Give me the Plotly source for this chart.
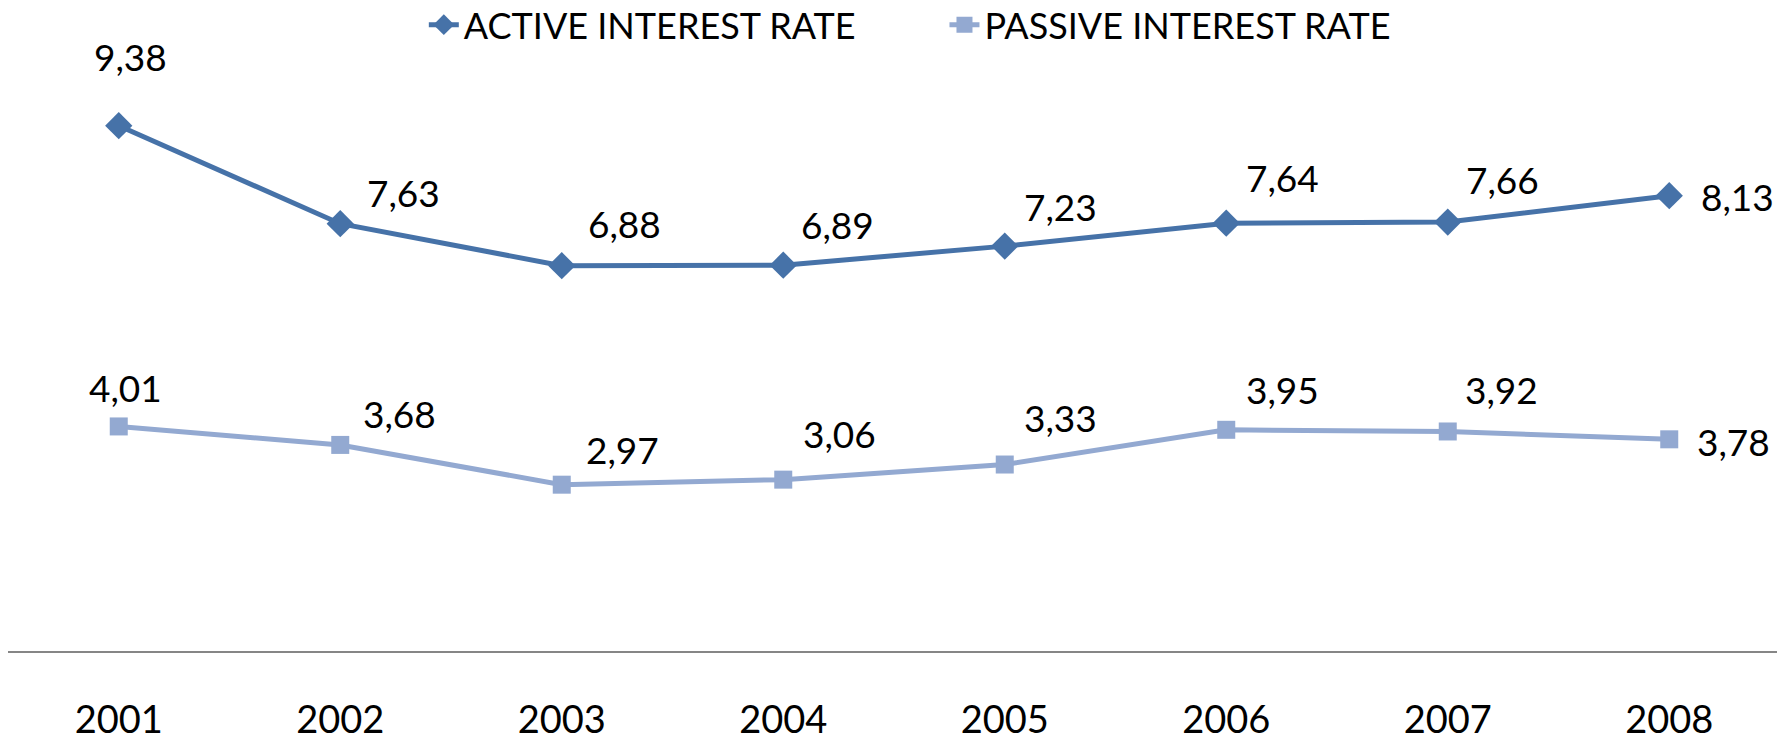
import plotly.graph_objects as go

years = ["2001", "2002", "2003", "2004", "2005", "2006", "2007", "2008"]
active = [9.38, 7.63, 6.88, 6.89, 7.23, 7.64, 7.66, 8.13]
passive = [4.01, 3.68, 2.97, 3.06, 3.33, 3.95, 3.92, 3.78]

# label offsets (pixels): (dx, dy up)
active_off = [(12, 69), (63, 31), (63, 42), (54, 41), (56, 40), (56, 46), (55, 43), (68, -1)]
passive_off = [(7, 39), (59, 31), (61, 35), (56, 46), (56, 47), (56, 40), (54, 42), (64, -2)]

ACTIVE_C = "#4672A8"
PASSIVE_C = "#93A9D1"
FONT = "Lato"

fig = go.Figure()
fig.add_trace(go.Scatter(
    x=years, y=active, name="ACTIVE INTEREST RATE", mode="lines+markers",
    line=dict(color=ACTIVE_C, width=5),
    marker=dict(symbol="diamond", size=21, color=ACTIVE_C),
    cliponaxis=False, legend="legend",
))
fig.add_trace(go.Scatter(
    x=years, y=passive, name="PASSIVE INTEREST RATE", mode="lines+markers",
    line=dict(color=PASSIVE_C, width=5),
    marker=dict(symbol="square", size=18, color=PASSIVE_C),
    cliponaxis=False, legend="legend2",
))

annotations = []
for vals, offs in ((active, active_off), (passive, passive_off)):
    for i, (v, (dx, dy)) in enumerate(zip(vals, offs)):
        annotations.append(dict(
            x=i, y=v, xref="x", yref="y",
            text=f"{v:.2f}".replace(".", ","), showarrow=False,
            xanchor="center", yanchor="middle", xshift=dx, yshift=dy,
            font=dict(family=FONT, size=37, color="#000000"),
        ))

legend_common = dict(orientation="h", xanchor="left", yanchor="middle",
                     xref="container", yref="container",
                     font=dict(family=FONT, size=36), itemwidth=30,
                     bgcolor="rgba(0,0,0,0)")

fig.update_layout(
    width=1777, height=728,
    margin=dict(l=0, r=5, t=83, b=85, autoexpand=False),
    paper_bgcolor="white", plot_bgcolor="white",
    font=dict(family=FONT, color="#000000"),
    showlegend=True,
    legend=dict(x=0.234, y=0.977, **legend_common),
    legend2=dict(x=0.527, y=0.977, **legend_common),
    annotations=annotations,
    xaxis=dict(
        type="category", range=[-0.5, 7.5], showgrid=False, zeroline=False,
        showline=True, linecolor="#868686", linewidth=2, ticks="", automargin=False,
        ticklabelstandoff=34, tickfont=dict(family=FONT, size=38, color="#000000"),
    ),
    yaxis=dict(range=[0, 10], visible=False, showgrid=False, zeroline=False,
               automargin=False),
)

fig.write_html("out.html")
